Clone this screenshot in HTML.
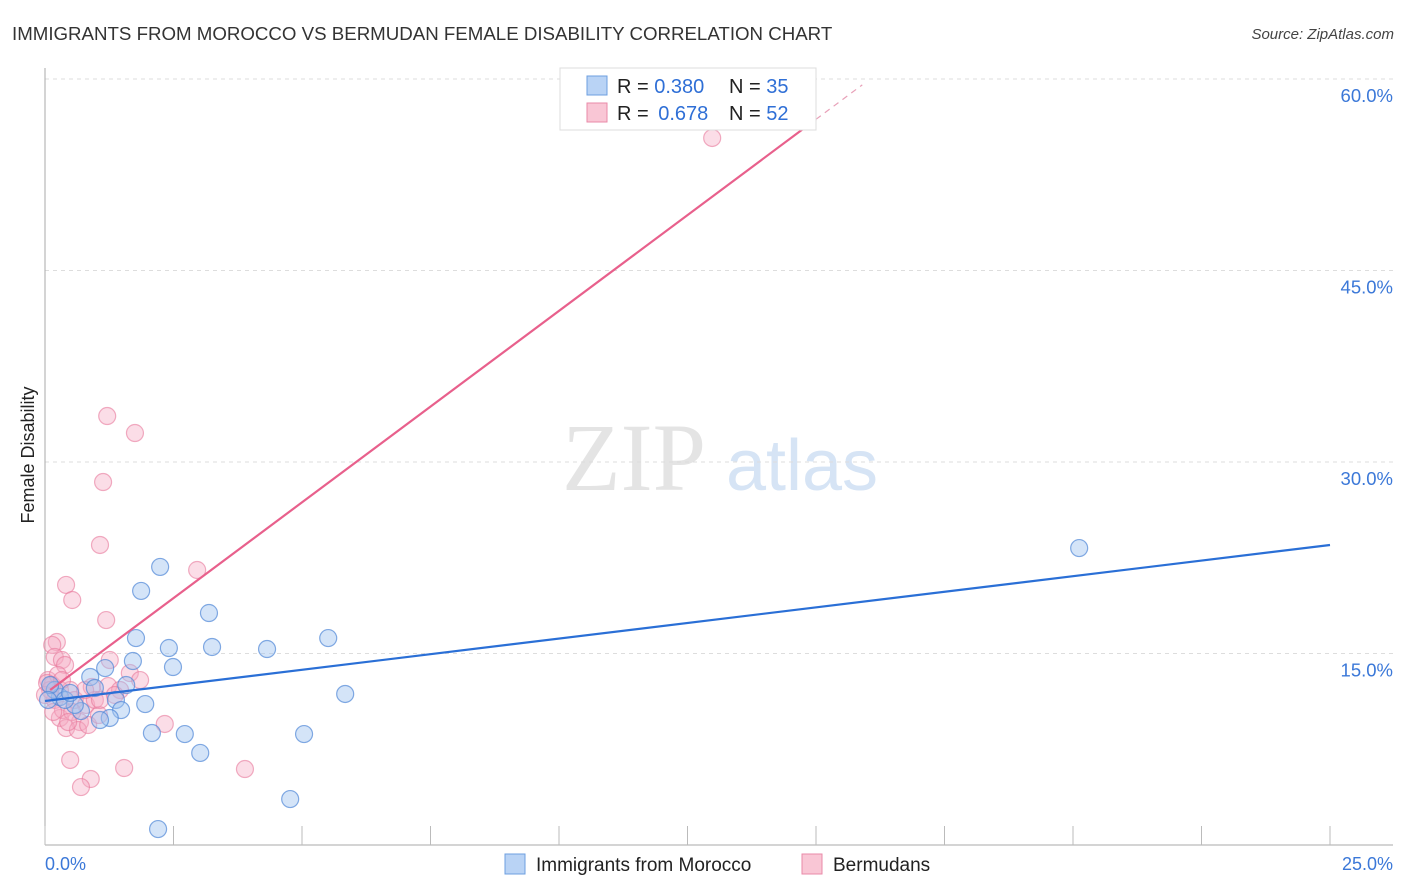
<!DOCTYPE html>
<html><head><meta charset="utf-8"><style>
body{margin:0;background:#fff;font-family:"Liberation Sans",sans-serif;}
svg{display:block}
</style></head><body>
<svg id="chart" width="1406" height="892" xmlns="http://www.w3.org/2000/svg">
<text x="12" y="40" font-size="18.7" fill="#333">IMMIGRANTS FROM MOROCCO VS BERMUDAN FEMALE DISABILITY CORRELATION CHART</text>
<text x="1394" y="39" font-size="15" fill="#444" text-anchor="end" font-style="italic">Source: ZipAtlas.com</text>
<g>
<text x="634" y="490" font-size="96" fill="#e4e4e4" text-anchor="middle" font-family="Liberation Serif,serif">ZIP</text>
<text x="802" y="490" font-size="72" fill="#d6e4f5" text-anchor="middle">atlas</text>
</g>
<g id="grid"></g>
<g id="axes"></g>
<g id="marks"></g>
<text transform="translate(34,455) rotate(-90)" font-size="18" fill="#222" text-anchor="middle">Female Disability</text>
<g>
<rect x="560" y="68" width="256" height="62" fill="#fff" stroke="#ddd"/>
<rect x="587" y="76" width="20" height="19" fill="#b9d3f5" stroke="#6d9fe0"/>
<rect x="587" y="103" width="20" height="19" fill="#f9c6d5" stroke="#e98aa8"/>
<text x="617" y="93" font-size="20" fill="#222">R = <tspan fill="#2f6fd6">0.380</tspan></text>
<text x="729" y="93" font-size="20" fill="#222">N = <tspan fill="#2f6fd6">35</tspan></text>
<text x="617" y="120" font-size="20" fill="#222">R = <tspan fill="#2f6fd6" dx="4">0.678</tspan></text>
<text x="729" y="120" font-size="20" fill="#222">N = <tspan fill="#2f6fd6">52</tspan></text>
</g>
<g>
<rect x="505" y="854" width="20" height="20" fill="#b9d3f5" stroke="#6d9fe0"/>
<text x="536" y="871" font-size="19" fill="#222">Immigrants from Morocco</text>
<rect x="802" y="854" width="20" height="20" fill="#f9c6d5" stroke="#e98aa8"/>
<text x="833" y="871" font-size="19" fill="#222">Bermudans</text>
</g>
</svg>
<script>
const blueX=[2.24,1.87,3.19,1.77,2.41,3.25,4.32,5.51,1.71,2.49,1.17,0.88,1.58,0.97,1.38,1.95,1.48,1.26,1.07,0.70,0.58,0.29,0.19,0.10,5.84,2.08,2.72,5.04,3.02,4.77,2.20,20.12,0.39,0.49,0.06];
const blueY=[21.78,19.90,18.17,16.21,15.43,15.51,15.35,16.21,14.41,13.94,13.86,13.16,12.53,12.30,11.36,11.04,10.57,9.95,9.79,10.49,10.97,11.59,12.14,12.53,11.83,8.77,8.69,8.69,7.21,3.60,1.25,23.26,11.36,11.91,11.36];
const pinkX=[12.98,1.21,1.75,1.13,1.07,2.96,0.41,0.53,1.19,0.23,0.14,0.19,0.33,0.39,1.26,1.65,0.91,1.23,0.49,0.29,0.14,0.06,0.58,0.80,0.29,0.68,0.41,0.64,0.84,1.05,2.33,0.49,1.54,3.89,0.89,0.70,0.19,0.10,0.00,0.25,0.35,0.97,1.46,1.85,1.07,0.78,0.53,0.45,1.36,0.16,0.04,0.33];
const pinkY=[55.38,33.60,32.27,28.43,23.50,21.54,20.37,19.19,17.62,15.90,15.67,14.73,14.49,14.10,14.49,13.47,12.38,12.45,12.14,12.14,12.53,12.92,11.36,10.97,9.95,9.63,9.16,9.01,9.40,10.18,9.48,6.66,6.03,5.95,5.17,4.54,11.36,12.14,11.75,13.32,10.57,11.36,12.14,12.92,11.36,12.14,10.42,9.63,11.75,10.42,12.69,12.92];
const yTicks=[15,30,45,60];
const yTickLabels=["15.0%","30.0%","45.0%","60.0%"];
const xTicks=[0,2.5,5,7.5,10,12.5,15,17.5,20,22.5,25];
const blueTrend=[11.28,23.5]; // y at x=0 and x=25
const pinkTrend=[11.84,3.0]; // intercept, slope
const NS="http://www.w3.org/2000/svg";
const sx=v=>45+v*51.4, sy=v=>845-v*12.767;
function mk(tag,attrs,parent){const e=document.createElementNS(NS,tag);for(const k in attrs)e.setAttribute(k,attrs[k]);parent.appendChild(e);return e;}
const grid=document.getElementById('grid'),axes=document.getElementById('axes'),marks=document.getElementById('marks'),svg=document.getElementById('chart');
yTicks.forEach((t,i)=>{
 const l=mk('line',{x1:45,x2:1393,y1:sy(t),y2:sy(t),stroke:'#ddd','stroke-dasharray':'4,4'},grid);
 
 
 const tx=mk('text',{x:1393,y:sy(t)+23,'font-size':18.5,fill:'#3b78d8','text-anchor':'end'},axes);
 tx.textContent=yTickLabels[i];
 
 
});
const ya=mk('line',{x1:45,x2:45,y1:68,y2:845,stroke:'#aaa'},axes);


const xa=mk('line',{x1:45,x2:1393,y1:845,y2:845,stroke:'#aaa'},axes);


xTicks.forEach(t=>{
 const l=mk('line',{x1:sx(t),x2:sx(t),y1:826,y2:845,stroke:'#bbb'},axes);
 
 
});
const xl0=mk('text',{x:45,y:870,'font-size':18,fill:'#3b78d8'},axes);xl0.textContent='0.0%';


const xl1=mk('text',{x:1393,y:870,'font-size':18,fill:'#3b78d8','text-anchor':'end'},axes);xl1.textContent='25.0%';


pinkX.forEach((x,i)=>{
 const c=mk('circle',{cx:sx(x),cy:sy(pinkY[i]),r:8.5,fill:'rgba(246,170,195,0.4)',stroke:'rgba(232,120,155,0.6)','stroke-width':1.2},marks);
 
 
});
blueX.forEach((x,i)=>{
 const c=mk('circle',{cx:sx(x),cy:sy(blueY[i]),r:8.5,fill:'rgba(160,195,240,0.45)',stroke:'rgba(80,135,215,0.7)','stroke-width':1.2},marks);
 
 
});
const bt=mk('line',{x1:sx(0),y1:sy(blueTrend[0]),x2:sx(25),y2:sy(blueTrend[1]),stroke:'#2a6fd6','stroke-width':2.2},marks);


const px0=0.1,px1=15,px2=15.9;
const pt=mk('line',{x1:sx(px0),y1:sy(pinkTrend[0]+pinkTrend[1]*px0),x2:sx(px1),y2:sy(pinkTrend[0]+pinkTrend[1]*px1),stroke:'#e8608c','stroke-width':2.2},marks);


const pd=mk('line',{x1:sx(px1),y1:sy(pinkTrend[0]+pinkTrend[1]*px1),x2:sx(px2),y2:sy(pinkTrend[0]+pinkTrend[1]*px2),stroke:'#e8a0b8','stroke-width':1.2,'stroke-dasharray':'6,5'},marks);


</script>
</body></html>
